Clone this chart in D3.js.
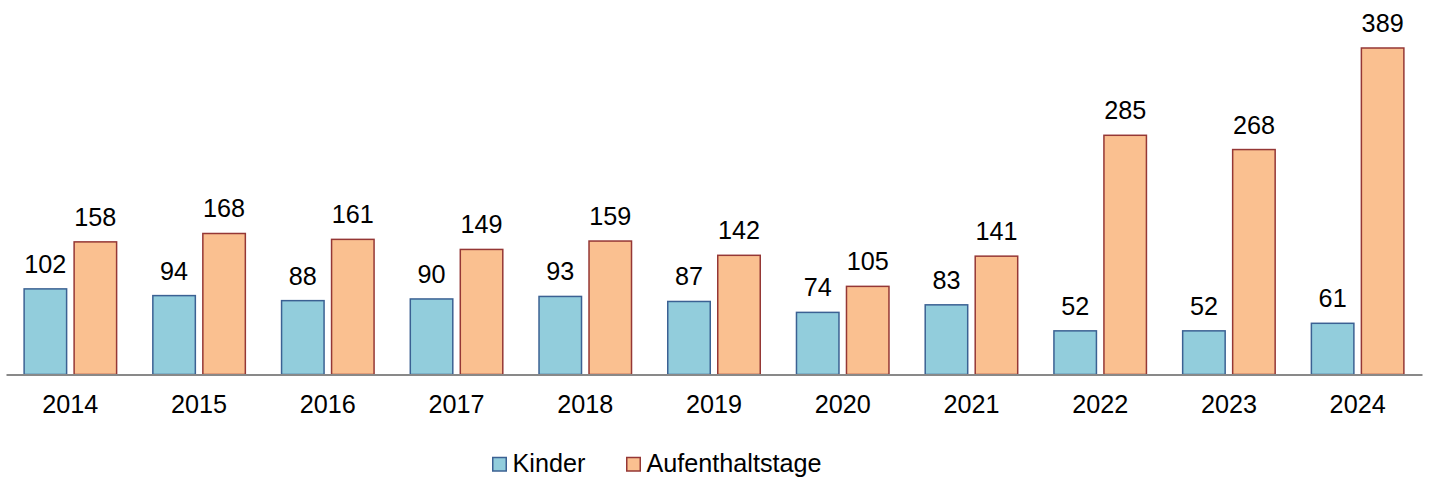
<!DOCTYPE html>
<html>
<head>
<meta charset="utf-8">
<script src="https://cdn.jsdelivr.net/npm/d3@7"></script>
<style>
  html, body { margin: 0; padding: 0; background: #fff; }
  svg { display: block; font-family: "Liberation Sans", Arial, sans-serif; }
</style>
</head>
<body>
<svg id="chart" width="1429" height="478"></svg>
<script>
// Data
const years = ["2014", "2015", "2016", "2017", "2018", "2019", "2020", "2021", "2022", "2023", "2024"];
const kinder = [102, 94, 88, 90, 93, 87, 74, 83, 52, 52, 61];
const aufenthaltstage = [158, 168, 161, 149, 159, 142, 105, 141, 285, 268, 389];
const seriesNames = ["Kinder", "Aufenthaltstage"];

const fills = ["#92CDDC", "#FAC090"];
const strokes = ["#3B6193", "#953735"];
const fontSize = 25.2;

const svg = d3.select("#chart");
const margin = { left: 6, right: 7, top: 48, bottom: 103.5 };
const W = 1429, H = 478;
const baseY = H - margin.bottom;

const x = d3.scaleBand()
  .domain(years)
  .range([margin.left, W - margin.right])
  .paddingInner(0)
  .paddingOuter(0);

const y = d3.scaleLinear()
  .domain([0, 389])
  .range([baseY, margin.top]);

const barW = 44, gap = 6;
const groupW = barW * 2 + gap;
const x1 = d3.scaleOrdinal().domain([0, 1]).range([0, barW + gap]);

const rows = years.map((yr, i) => ({ year: yr, vals: [kinder[i], aufenthaltstage[i]] }));

const groups = svg.append("g").selectAll("g")
  .data(rows).join("g")
  .attr("transform", d => `translate(${x(d.year) + (x.bandwidth() - groupW) / 2},0)`);

groups.selectAll("rect")
  .data(d => d.vals.map((v, s) => ({ v, s })))
  .join("rect")
  .attr("x", d => x1(d.s) + 0.75)
  .attr("width", barW - 1.5)
  .attr("y", d => y(d.v))
  .attr("height", d => baseY - y(d.v))
  .attr("fill", d => fills[d.s])
  .attr("stroke", d => strokes[d.s])
  .attr("stroke-width", 1.5);

groups.selectAll("text")
  .data(d => d.vals.map((v, s) => ({ v, s })))
  .join("text")
  .attr("x", d => x1(d.s) + barW / 2)
  .attr("y", d => y(d.v) - 16)
  .attr("text-anchor", "middle")
  .attr("font-size", fontSize)
  .attr("fill", "#000")
  .text(d => d.v);

// Category axis
const axis = svg.append("g")
  .attr("transform", `translate(0,${baseY})`)
  .call(d3.axisBottom(x).tickSize(0).tickPadding(21));
axis.select(".domain").attr("stroke", "#898989").attr("stroke-width", 2);
axis.selectAll("text")
  .attr("font-size", fontSize)
  .attr("fill", "#000")
  .attr("font-family", "\"Liberation Sans\", Arial, sans-serif")
  .attr("dy", "0.71em");

// Legend
const legendItems = [
  { name: seriesNames[0], sx: 492 },
  { name: seriesNames[1], sx: 626 }
];
const legend = svg.append("g");
legendItems.forEach((it, i) => {
  legend.append("rect")
    .attr("x", it.sx + 0.75).attr("y", 457.5)
    .attr("width", 13.5).attr("height", 13.5)
    .attr("fill", fills[i]).attr("stroke", strokes[i]).attr("stroke-width", 1.5);
  legend.append("text")
    .attr("x", it.sx + 20.5).attr("y", 471.5)
    .attr("font-size", fontSize).attr("fill", "#000")
    .text(it.name);
});
</script>
</body>
</html>
